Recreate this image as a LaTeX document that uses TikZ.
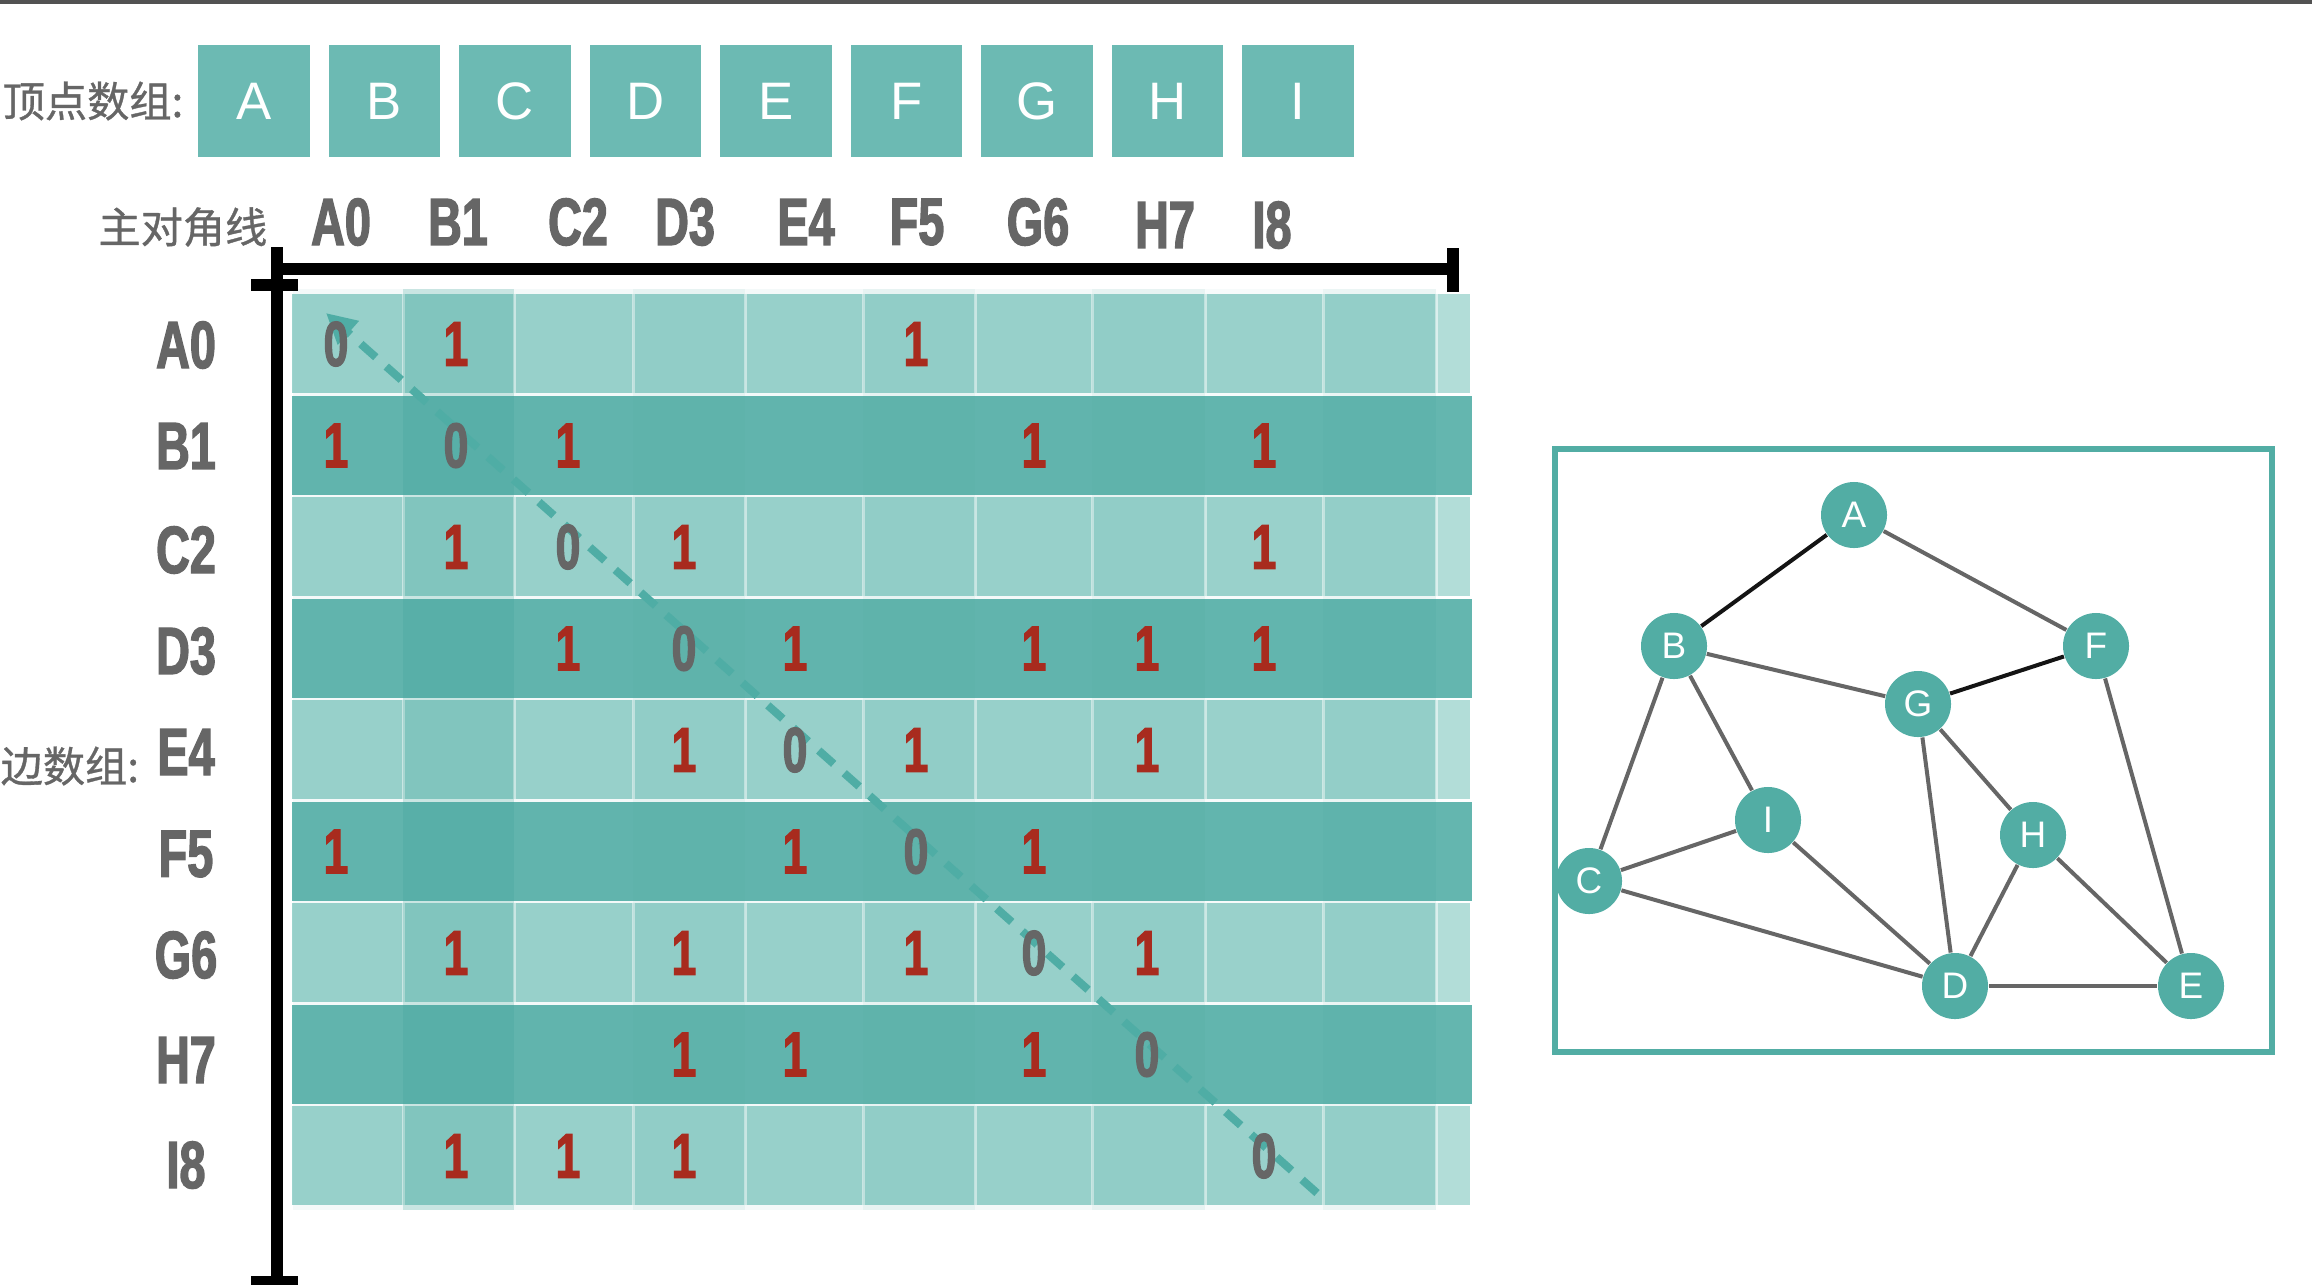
\documentclass[tikz,border=0pt]{standalone}
\usepackage{fontspec}
\usetikzlibrary{arrows.meta}
\setmainfont{Liberation Sans}
\newfontfamily\cjkfont[FakeBold=0.8]{Noto Sans CJK SC}
\newfontfamily\condfont[FakeStretch=0.7,FakeBold=2]{Liberation Sans}
\definecolor{boxteal}{HTML}{6CBAB3}
\definecolor{nodeteal}{HTML}{52ADA4}
\definecolor{lightrow}{HTML}{9DD4CE}
\definecolor{darkrow}{HTML}{64B6AF}
\definecolor{stripteal}{HTML}{3CA096}
\definecolor{labelgray}{HTML}{666666}
\definecolor{onered}{HTML}{A82B1E}
\definecolor{dashteal}{HTML}{4FADA5}

\begin{document}
\begin{tikzpicture}[
  x=0.01cm, y=-0.01cm,
  vbox/.style={fill=boxteal, minimum width=1.11cm, minimum height=1.11cm, inner sep=0pt, text=white, font=\fontsize{15}{15}\selectfont},
  cjklabel/.style={font=\cjkfont\fontsize{12}{12}\selectfont, text=labelgray, inner sep=0pt},
  idxlabel/.style={font=\condfont\bfseries\fontsize{19}{19}\selectfont, text=labelgray, inner sep=0pt},
  zerocell/.style={font=\condfont\bfseries\fontsize{18}{18}\selectfont, text=labelgray, inner sep=0pt},
  onecell/.style={zerocell, text=onered},
  axis/.style={draw=black, line width=0.12cm},
  gnode/.style={circle, fill=nodeteal, minimum size=0.66cm, inner sep=0pt, text=white, font=\fontsize{10.5}{10.5}\selectfont},
  gedge/.style={draw=black!60, line width=0.04cm},
  gedgedark/.style={draw=black!92, line width=0.04cm},
  diag/.style={draw=dashteal, line width=0.08cm, dash pattern=on 0.2cm off 0.14cm, -{Triangle[length=0.3cm, width=0.3cm]}}
]
  \useasboundingbox (0,0) rectangle (2312,1284);
  \fill[black!68] (0,0) rectangle (2312,4);

  % vertex array
  \node[cjklabel, anchor=east] (vlabel) at (184,101) {顶点数组:};
  \foreach \n [count=\i from 0] in {A,B,C,D,E,F,G,H,I}
    \node[vbox] (v\n) at (254+130.5*\i,101) {\n};

  % diagonal header
  \node[cjklabel, anchor=east] (dlabel) at (268,227) {主对角线};
  \foreach \n/\xx/\yy [count=\i from 0] in {A/341/222,B/458/222,C/578/222,D/685/222,E/806/222,F/917/222,G/1038/222,H/1165/225,I/1272/225}
    \node[idxlabel] (col\n) at (\xx,\yy) {\n\i};

  % matrix rows and column strips
  \foreach \r in {0,2,4,6,8}
    \fill[lightrow] (292,294+101.5*\r) rectangle (1470,393+101.5*\r);
  \foreach \xs in {403,514,633,745,863,975,1092,1205,1323,1436}
    \draw[white, opacity=0.55, line width=0.03cm] (\xs,294) -- (\xs,1206);
  \foreach \r in {1,3,5,7}
    \fill[darkrow] (292,294+101.5*\r) rectangle (1472,393+101.5*\r);
  \foreach \xa/\xb/\op in {293/403/0.06, 403/514/0.28, 514/633/0.06, 633/745/0.12, 745/863/0.06, 863/975/0.12, 975/1092/0.06, 1092/1205/0.12, 1205/1323/0.04, 1323/1436/0.1}
    \fill[stripteal, opacity=\op] (\xa,289) rectangle (\xb,1210);
  \foreach \r in {0,2,4,6,8}
    \fill[white, opacity=0.22] (1436,294+101.5*\r) rectangle (1470,393+101.5*\r);

  % edge array labels
  \node[cjklabel, anchor=west] (elabel) at (0,766) {边数组:};
  \foreach \n/\yy [count=\i from 0] in {A/345,B/446,C/550,D/651,E/752,F/854,G/955,H/1060,I/1165}
    \node[idxlabel] (row\n) at (186,\yy) {\n\i};

  % axes
  \draw[axis] (277,247) -- (277,1290);
  \draw[axis] (277,269) -- (1453,269);
  \draw[axis] (1453,248) -- (1453,292);
  \draw[axis] (251,285) -- (298,285);
  \draw[axis] (251,1282) -- (298,1282);

  \coordinate (diagtail) at (1317,1193);
  \coordinate (diagtip) at (326,313);
  \draw[diag] (diagtail) -- (diagtip);

  % matrix entries
  \def\digitx{{336,456,568,684,795,916,1034,1147,1264}}
  \foreach \r/\ones in {0/{1,5}, 1/{0,2,6,8}, 2/{1,3,8}, 3/{2,4,6,7,8}, 4/{3,5,7}, 5/{0,4,6}, 6/{1,3,5,7}, 7/{3,4,6}, 8/{1,2,3}} {
    \pgfmathsetmacro\dx{\digitx[\r]}
    \node[zerocell] (m\r\r) at (\dx,344+101.5*\r) {0};
    \foreach \c in \ones {
      \pgfmathsetmacro\cx{\digitx[\c]}
      \node[onecell] (m\r\c) at (\cx,344+101.5*\r) {1};
    }
  }

  % graph
  \draw[draw=nodeteal, line width=0.06cm] (1555,449) rectangle (2272,1052);
  \node[gnode] (gA) at (1854,515) {A};
  \node[gnode] (gB) at (1674,646) {B};
  \node[gnode] (gF) at (2096,646) {F};
  \node[gnode] (gG) at (1918,704) {G};
  \node[gnode] (gI) at (1768,820) {I};
  \node[gnode] (gH) at (2033,835) {H};
  \node[gnode] (gC) at (1589,881) {C};
  \node[gnode] (gD) at (1955,986) {D};
  \node[gnode] (gE) at (2191,986) {E};
  \draw[gedgedark] (gA) -- (gB);
  \draw[gedgedark] (gG) -- (gF);
  \foreach \a/\b in {A/F, B/G, B/C, B/I, I/C, I/D, C/D, G/D, G/H, H/D, H/E, F/E, D/E}
    \draw[gedge] (g\a) -- (g\b);
\end{tikzpicture}
\end{document}
